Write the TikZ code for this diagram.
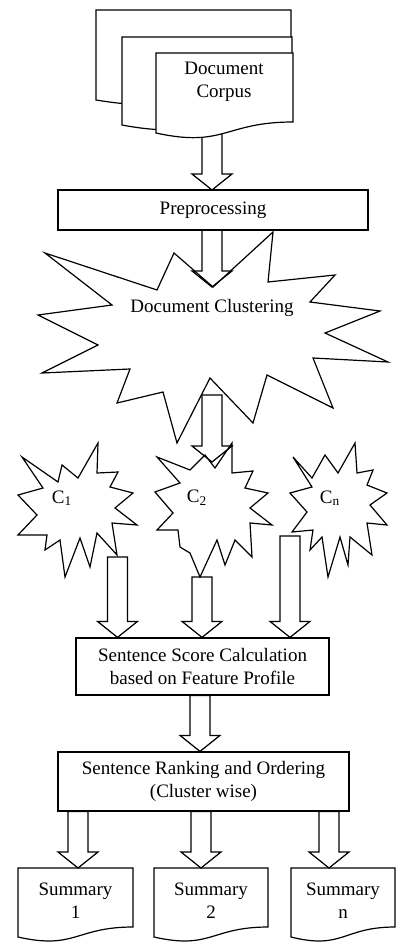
\documentclass[tikz,border=0pt]{standalone}
\usepackage{fontspec}
\setmainfont{Liberation Serif}
\usetikzlibrary{calc}

\tikzset{
  page/.style={draw, fill=white, line width=0.6pt},
  burst/.style={draw, line width=0.6pt, line join=miter},
  box/.style={draw, fill=white, line width=0.6pt, inner sep=0pt, align=center},
  blockarrow/.style={draw, line width=0.6pt, line join=miter,
    to path={let \p1=(\tikztostart), \p2=(\tikztotarget) in
      (\x1-5pt,\y1) -- (\x1-5pt,\y2+8pt) -- (\x1-10pt,\y2+8pt) -- (\x1,\y2)
      -- (\x1+10pt,\y2+8pt) -- (\x1+5pt,\y2+8pt) -- (\x1+5pt,\y1) -- cycle}},
}

\begin{document}
\begin{tikzpicture}[x=0.5pt,y=-0.5pt,font=\fontsize{9.5}{11.5}\selectfont]
\useasboundingbox (0,0) rectangle (396,942);

% ends of the arrows
\coordinate (a0) at (212,130);
\coordinate (a1) at (212,225);
\coordinate (clustin) at (212,287);
\coordinate (a2) at (212,395);
\coordinate (c2in) at (212,462);
\coordinate (a3) at (117.5,557);
\coordinate (a4) at (202,577);
\coordinate (a5) at (290,536);

\draw[blockarrow] (a0) to (213,190);
\draw[blockarrow] (a1) to (clustin);

% document corpus
\draw[page] (96,10) -- (291,10) -- (291,87) .. controls (193.5,87) and (193.5,116) .. (96,100) -- cycle;
\draw[page] (122,37) -- (292,37) -- (292,112) .. controls (207,112) and (207,141) .. (122,125) -- cycle;
\draw[page] (156,53) -- (293,53) -- (293,122) .. controls (224.5,122) and (224.5,148) .. (156,133) -- cycle;
\node[align=center] (corpus) at (224,82) {Document\\Corpus};

\node[box, minimum width=155pt, minimum height=20pt] (prep) at (213,210) {Preprocessing};

% clustering
\draw[burst] (45,253) -- (157,290) -- (174,253) -- (213,287) -- (273,232) -- (268,282)
  -- (335,275) -- (310,302) -- (380,311) -- (325,333) -- (388,362) -- (313,358)
  -- (333,408) -- (267,375) -- (253,423) -- (210,378) -- (177,443) -- (163,392)
  -- (117,403) -- (130,369) -- (42,373) -- (98,345) -- (38,315) -- (112,305) -- cycle;
\node (clust) at (212,308) {Document Clustering};

\draw[blockarrow] (a2) to (c2in);

% clusters
\draw[burst] (22,457) -- (58,482) -- (62,465) -- (78,478) -- (98,443) -- (97,473)
  -- (118,472) -- (110,487) -- (133,493) -- (115,508) -- (137,525) -- (112,523)
  -- (117,555) -- (97,533) -- (90,567) -- (80,538) -- (65,577) -- (60,540)
  -- (45,550) -- (47,535) -- (18,535) -- (37,515) -- (18,495) -- (43,488) -- cycle;
\node (c1) at (62,498) {C\textsubscript{1}};
\draw[burst] (157,457) -- (190,470) -- (205,455) -- (215,468) -- (232,443) -- (232,473)
  -- (253,471) -- (245,488) -- (268,493) -- (250,508) -- (272,525) -- (250,523)
  -- (252,557) -- (235,540) -- (225,565) -- (217,540) -- (200,577) -- (190,553)
  -- (180,547) -- (178,530) -- (157,530) -- (173,513) -- (155,492) -- (180,483) -- cycle;
\node (c2) at (197,498) {C\textsubscript{2}};
\draw[burst] (293,457) -- (312,478) -- (325,455) -- (338,473) -- (355,443) -- (357,473)
  -- (373,470) -- (367,485) -- (387,493) -- (370,505) -- (387,525) -- (367,523)
  -- (372,555) -- (350,537) -- (348,565) -- (340,537) -- (328,577) -- (322,537)
  -- (310,550) -- (313,530) -- (292,532) -- (307,512) -- (290,493) -- (312,487) -- cycle;
\node (cn) at (330,498) {C\textsubscript{n}};

\node[box, minimum width=126.5pt, minimum height=28.5pt] (score) at (202.5,666.5)
  {Sentence Score Calculation\\based on Feature Profile};
\draw[blockarrow] (a3) to (score.north);
\draw[blockarrow] (a4) to (score.north);
\draw[blockarrow] (a5) to (score.north);

\node[box, minimum width=145.5pt, minimum height=29.5pt] (rank) at (203.5,781.5)
  {Sentence Ranking and Ordering\\(Cluster wise)};
\draw[blockarrow] (score.south -| 200,0) to (rank.north);

% summaries
\foreach \xa/\xb/\xc/\t in {18/133/78/1,154/268/201/2,291/395/329/n}{
  \draw[page] (\xa,868) -- (\xb,868) -- (\xb,927) .. controls ({(\xa+\xb)/2},927) and ({(\xa+\xb)/2},950) .. (\xa,937) -- cycle;
  \node[align=center] (s\t) at ({(\xa+\xb)/2},901) {Summary\\\t};
  \draw[blockarrow] (rank.south -| \xc,0) to (s\t.north |- 0,868);
}
\end{tikzpicture}
\end{document}
